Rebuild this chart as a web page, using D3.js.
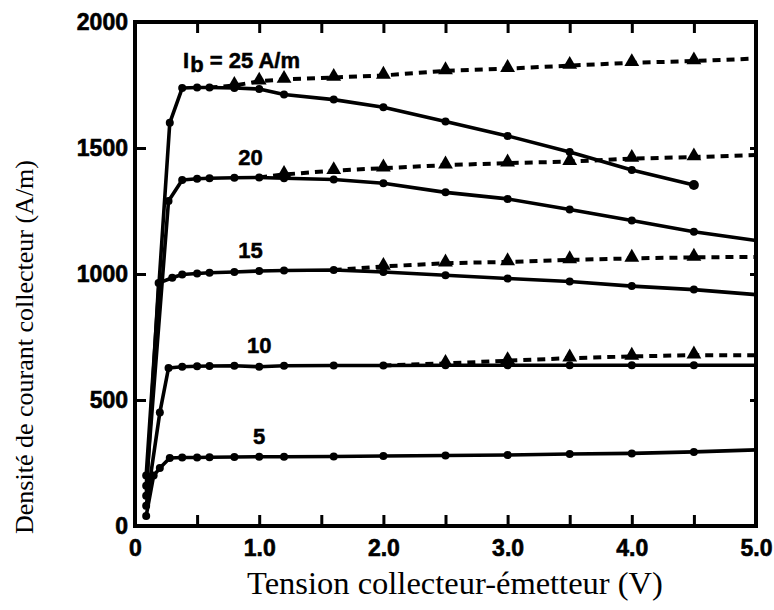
<!DOCTYPE html>
<html>
<head>
<meta charset="utf-8">
<script src="https://cdn.jsdelivr.net/npm/d3@7"></script>
<style>
  html, body { margin: 0; padding: 0; background: #fff; }
  svg { display: block; }
  .tick text { font-family: "Liberation Sans", Arial, sans-serif; font-weight: bold; font-size: 23px; fill: #000; stroke: #000; stroke-width: 0.6px; }
  .title { font-family: "Liberation Serif", "Times New Roman", serif; fill: #000; }
  .curve-label { font-family: "Liberation Sans", Arial, sans-serif; font-weight: bold; font-size: 22px; fill: #000; stroke: #000; stroke-width: 0.5px; }
</style>
</head>
<body>
<svg id="chart" width="774" height="610"></svg>
<script>
// Collector current density vs collector-emitter voltage, one curve pair per base current.
// Each series: [Vce (V), Jc (A/m)]. Solid = with circles, dashed = with triangles.
const baseCurrents = [5, 10, 15, 20, 25];

const solid5 = [[0.09, 40], [0.15, 200], [0.2, 230], [0.28, 270], [0.38, 272], [0.5, 272], [0.6, 273], [0.8, 274], [1.0, 275], [1.2, 275], [1.6, 276], [2.0, 278], [2.5, 280], [3.0, 282], [3.5, 286], [4.0, 288], [4.5, 294], [5.0, 302]];
const solid10 = [[0.09, 80], [0.2, 450], [0.27, 627], [0.38, 632], [0.5, 634], [0.6, 635], [0.8, 636], [1.0, 632], [1.2, 636], [1.6, 637], [2.0, 637], [2.5, 638], [3.0, 638], [3.5, 638], [4.0, 638], [4.5, 638], [5.0, 638]];
const solid15 = [[0.09, 120], [0.19, 964], [0.3, 985], [0.38, 998], [0.5, 1002], [0.6, 1005], [0.8, 1008], [1.0, 1012], [1.2, 1014], [1.6, 1016], [2.0, 1008], [2.5, 995], [3.0, 982], [3.5, 970], [4.0, 952], [4.5, 938], [5.0, 918]];
const solid20 = [[0.09, 160], [0.27, 1290], [0.38, 1373], [0.5, 1378], [0.6, 1380], [0.8, 1382], [1.0, 1383], [1.2, 1380], [1.6, 1375], [2.0, 1360], [2.5, 1324], [3.0, 1298], [3.5, 1256], [4.0, 1212], [4.5, 1168], [5.0, 1133]];
const solid25 = [[0.09, 200], [0.28, 1600], [0.38, 1738], [0.5, 1740], [0.6, 1740], [0.8, 1738], [1.0, 1734], [1.2, 1712], [1.6, 1692], [2.0, 1662], [2.5, 1605], [3.0, 1548], [3.5, 1484], [4.0, 1413], [4.5, 1353]];

const dashed10 = [[2.0, 637], [2.5, 645], [3.0, 656], [3.5, 666], [4.0, 673], [4.5, 678], [5.0, 678]];
const dashed15 = [[1.6, 1016], [2.0, 1030], [2.5, 1043], [3.0, 1048], [3.5, 1056], [4.0, 1062], [4.5, 1066], [5.0, 1068]];
const dashed20 = [[1.0, 1383], [1.2, 1395], [1.6, 1410], [2.0, 1420], [2.5, 1432], [3.0, 1440], [3.5, 1446], [4.0, 1458], [4.5, 1464], [5.0, 1472]];
const dashed25 = [[0.6, 1740], [0.8, 1748], [1.0, 1765], [1.2, 1772], [1.6, 1780], [2.0, 1788], [2.5, 1806], [3.0, 1815], [3.5, 1827], [4.0, 1838], [4.5, 1845], [5.0, 1855]];

const solidSeries = [solid5, solid10, solid15, solid20, solid25];
const dashedSeries = [dashed10, dashed15, dashed20, dashed25];

const xTicks = [0, 0.5, 1, 1.5, 2, 2.5, 3, 3.5, 4, 4.5, 5];
const xTickLabels = ["0", "", "1.0", "", "2.0", "", "3.0", "", "4.0", "", "5.0"];
const yTicks = [0, 500, 1000, 1500, 2000];
const yTickLabels = ["0", "500", "1000", "1500", "2000"];

const curveLabels = ["5", "10", "15", "20"];
const curveLabelAt = [[1.0, 275], [1.0, 636], [0.93, 1012], [0.93, 1380]];

const xTitle = "Tension collecteur-émetteur (V)";
const yTitle = "Densité de courant collecteur (A/m)";

const svg = d3.select("#chart");
const plot = { left: 135, right: 756, top: 22, bottom: 526 };

const x = d3.scaleLinear().domain([0, 5]).range([plot.left, plot.right]);
const y = d3.scaleLinear().domain([0, 2000]).range([plot.bottom, plot.top]);

// axes with inward ticks
const gB = svg.append("g").attr("transform", `translate(0,${plot.bottom})`)
  .call(d3.axisBottom(x).tickValues(xTicks).tickSize(-11).tickPadding(14)
    .tickFormat((d, i) => xTickLabels[i]));
const gT = svg.append("g").attr("transform", `translate(0,${plot.top})`)
  .call(d3.axisTop(x).tickValues(xTicks.slice(1, -1)).tickSize(-11).tickFormat(""));
const gL = svg.append("g").attr("transform", `translate(${plot.left},0)`)
  .call(d3.axisLeft(y).tickValues(yTicks).tickSize(-11).tickPadding(7)
    .tickFormat((d, i) => yTickLabels[i]));
const gR = svg.append("g").attr("transform", `translate(${plot.right},0)`)
  .call(d3.axisRight(y).tickValues(yTicks.slice(1, -1)).tickSize(-6).tickFormat(""));

[gB, gT, gL, gR].forEach(g => {
  g.select(".domain").remove();
  g.selectAll(".tick line").attr("stroke", "#000").attr("stroke-width", 3);
});

// frame
svg.append("rect")
  .attr("x", plot.left).attr("y", plot.top)
  .attr("width", plot.right - plot.left).attr("height", plot.bottom - plot.top)
  .attr("fill", "none").attr("stroke", "#000").attr("stroke-width", 4);

const line = d3.line().x(d => x(d[0])).y(d => y(d[1]));

// dashed curves with triangle markers
const tri = d3.symbol().type(d3.symbolTriangle).size(95);
dashedSeries.forEach(s => {
  svg.append("path").datum(s).attr("d", line)
    .attr("fill", "none").attr("stroke", "#000").attr("stroke-width", 4)
    .attr("stroke-dasharray", "8,6");
  svg.append("g").selectAll("path").data(s.slice(1, -1)).join("path")
    .attr("d", tri)
    .attr("transform", d => `translate(${x(d[0])},${y(d[1]) - 1})`)
    .attr("fill", "#000");
});

// solid curves with circle markers
solidSeries.forEach(s => {
  svg.append("path").datum(s).attr("d", line)
    .attr("fill", "none").attr("stroke", "#000").attr("stroke-width", 3.6)
    .attr("stroke-linejoin", "round");
  const pts = s[s.length - 1][0] >= 5 ? s.slice(0, -1) : s;
  svg.append("g").selectAll("circle").data(pts).join("circle")
    .attr("cx", d => x(d[0])).attr("cy", d => y(d[1]))
    .attr("r", d => (d === s[s.length - 1] ? 5 : 4))
    .attr("fill", "#000");
});

// curve labels
curveLabels.forEach((t, i) => {
  svg.append("text").attr("class", "curve-label")
    .attr("x", x(curveLabelAt[i][0])).attr("y", y(curveLabelAt[i][1]) - 13)
    .attr("text-anchor", "middle").text(t);
});
const lab25 = svg.append("text").attr("class", "curve-label")
  .attr("x", 183).attr("y", 68);
lab25.append("tspan").text("I");
lab25.append("tspan").attr("dy", 4).attr("dx", 1).text("b");
lab25.append("tspan").attr("dy", -4).text(" = 25 A/m");

// axis titles
svg.append("text").attr("class", "title")
  .attr("x", 455).attr("y", 594).attr("text-anchor", "middle")
  .style("font-size", "32.5px").text(xTitle);
svg.append("text").attr("class", "title")
  .attr("transform", "translate(33,347) rotate(-90)").attr("text-anchor", "middle")
  .style("font-size", "26px").text(yTitle);
</script>
</body>
</html>
